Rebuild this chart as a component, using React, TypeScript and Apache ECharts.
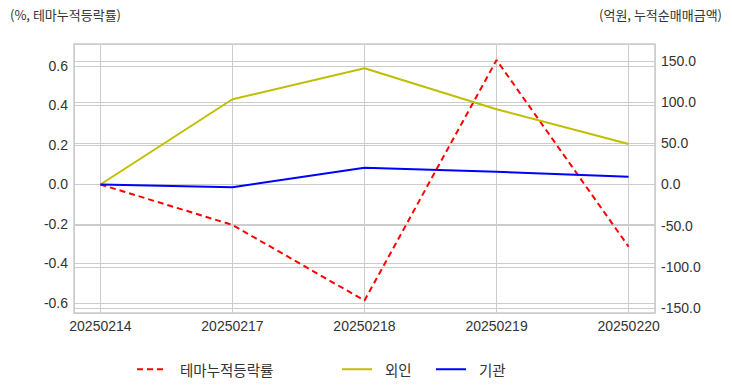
import React, { useEffect, useRef } from "react";
import * as echarts from "echarts";

const categories = ["20250214", "20250217", "20250218", "20250219", "20250220"];
const themeReturn = [0, -0.205, -0.588, 0.63, -0.315];
const foreign = [0, 103.5, 141.1, 91.3, 49.2];
const institution = [0, -3.4, 20.4, 15.5, 9.5];

const FONT = "'Liberation Sans', 'Noto Sans CJK KR', sans-serif";
const KFONT = "'Noto Sans CJK KR', 'Liberation Sans', sans-serif";

export default function App() {
  const ref = useRef<HTMLDivElement>(null);
  useEffect(() => {
    document.body.style.margin = "0";
    const chart = echarts.init(ref.current!, null, { renderer: "svg" });
    const toPts = (arr: number[]) => arr.map((v, i) => [i, v]);
    const legendBase = {
      top: 357,
      itemWidth: 30,
      itemHeight: 14,
      itemGap: 10,
      itemStyle: { opacity: 0 },
      textStyle: { fontFamily: KFONT, fontSize: 14.5, color: "#333", padding: [0, 0, 0, 8] },
    };
    chart.setOption({
      animation: false,
      backgroundColor: "#fff",
      grid: {
        left: 74,
        right: 77,
        top: 44,
        bottom: 79,
        show: true,
        borderColor: "#cccccc",
        borderWidth: 1.5,
        backgroundColor: "transparent",
      },
      graphic: [
        {
          type: "text",
          left: 10,
          top: 8,
          style: { text: "(%, 테마누적등락률)", font: `13px ${KFONT}`, fill: "#333" },
        },
        {
          type: "text",
          right: 10,
          top: 8,
          style: { text: "(억원, 누적순매매금액)", font: `13px ${KFONT}`, fill: "#333" },
        },
      ],
      legend: [
        { ...legendBase, left: 131, data: ["테마누적등락률"] },
        { ...legendBase, left: 336, data: ["외인"] },
        { ...legendBase, left: 430, data: ["기관"] },
      ],
      xAxis: {
        type: "value",
        min: -0.2,
        max: 4.2,
        splitNumber: 5,
        axisLine: { show: false },
        axisTick: { show: false },
        splitLine: { show: true, lineStyle: { color: "#cccccc", width: 1 } },
        axisLabel: {
          showMinLabel: false,
          showMaxLabel: false,
          margin: 6,
          fontFamily: FONT,
          fontSize: 14,
          color: "#333",
          formatter: (v: number) => {
            const r = Math.round(v);
            return Math.abs(v - r) < 1e-6 && r >= 0 && r < categories.length ? categories[r] : "";
          },
        },
      },
      yAxis: [
        {
          type: "value",
          min: -0.651,
          max: 0.711,
          splitNumber: 7,
          axisLine: { show: false },
          axisTick: { show: false },
          splitLine: { show: true, lineStyle: { color: "#cccccc", width: 1 } },
          axisLabel: {
            showMinLabel: false,
            showMaxLabel: false,
            margin: 6,
            fontFamily: FONT,
            fontSize: 14,
            color: "#333",
            formatter: (v: number) => v.toFixed(1),
          },
        },
        {
          type: "value",
          position: "right",
          min: -156.1,
          max: 170.6,
          splitNumber: 7,
          axisLine: { show: false },
          axisTick: { show: false },
          splitLine: { show: true, lineStyle: { color: "#cccccc", width: 1 } },
          axisLabel: {
            showMinLabel: false,
            showMaxLabel: false,
            margin: 6,
            fontFamily: FONT,
            fontSize: 14,
            color: "#333",
            formatter: (v: number) => v.toFixed(1),
          },
        },
      ],
      series: [
        {
          name: "테마누적등락률",
          type: "line",
          yAxisIndex: 0,
          data: toPts(themeReturn),
          symbol: "none",
          color: "#ff0000",
          lineStyle: { color: "#ff0000", width: 2, type: [6, 4] },
        },
        {
          name: "외인",
          type: "line",
          yAxisIndex: 1,
          data: toPts(foreign),
          symbol: "none",
          color: "#bfbf00",
          lineStyle: { color: "#bfbf00", width: 2 },
        },
        {
          name: "기관",
          type: "line",
          yAxisIndex: 1,
          data: toPts(institution),
          symbol: "none",
          color: "#0000ff",
          lineStyle: { color: "#0000ff", width: 2 },
        },
      ],
    });
    return () => chart.dispose();
  }, []);
  return <div ref={ref} style={{ width: 732, height: 392 }} />;
}
